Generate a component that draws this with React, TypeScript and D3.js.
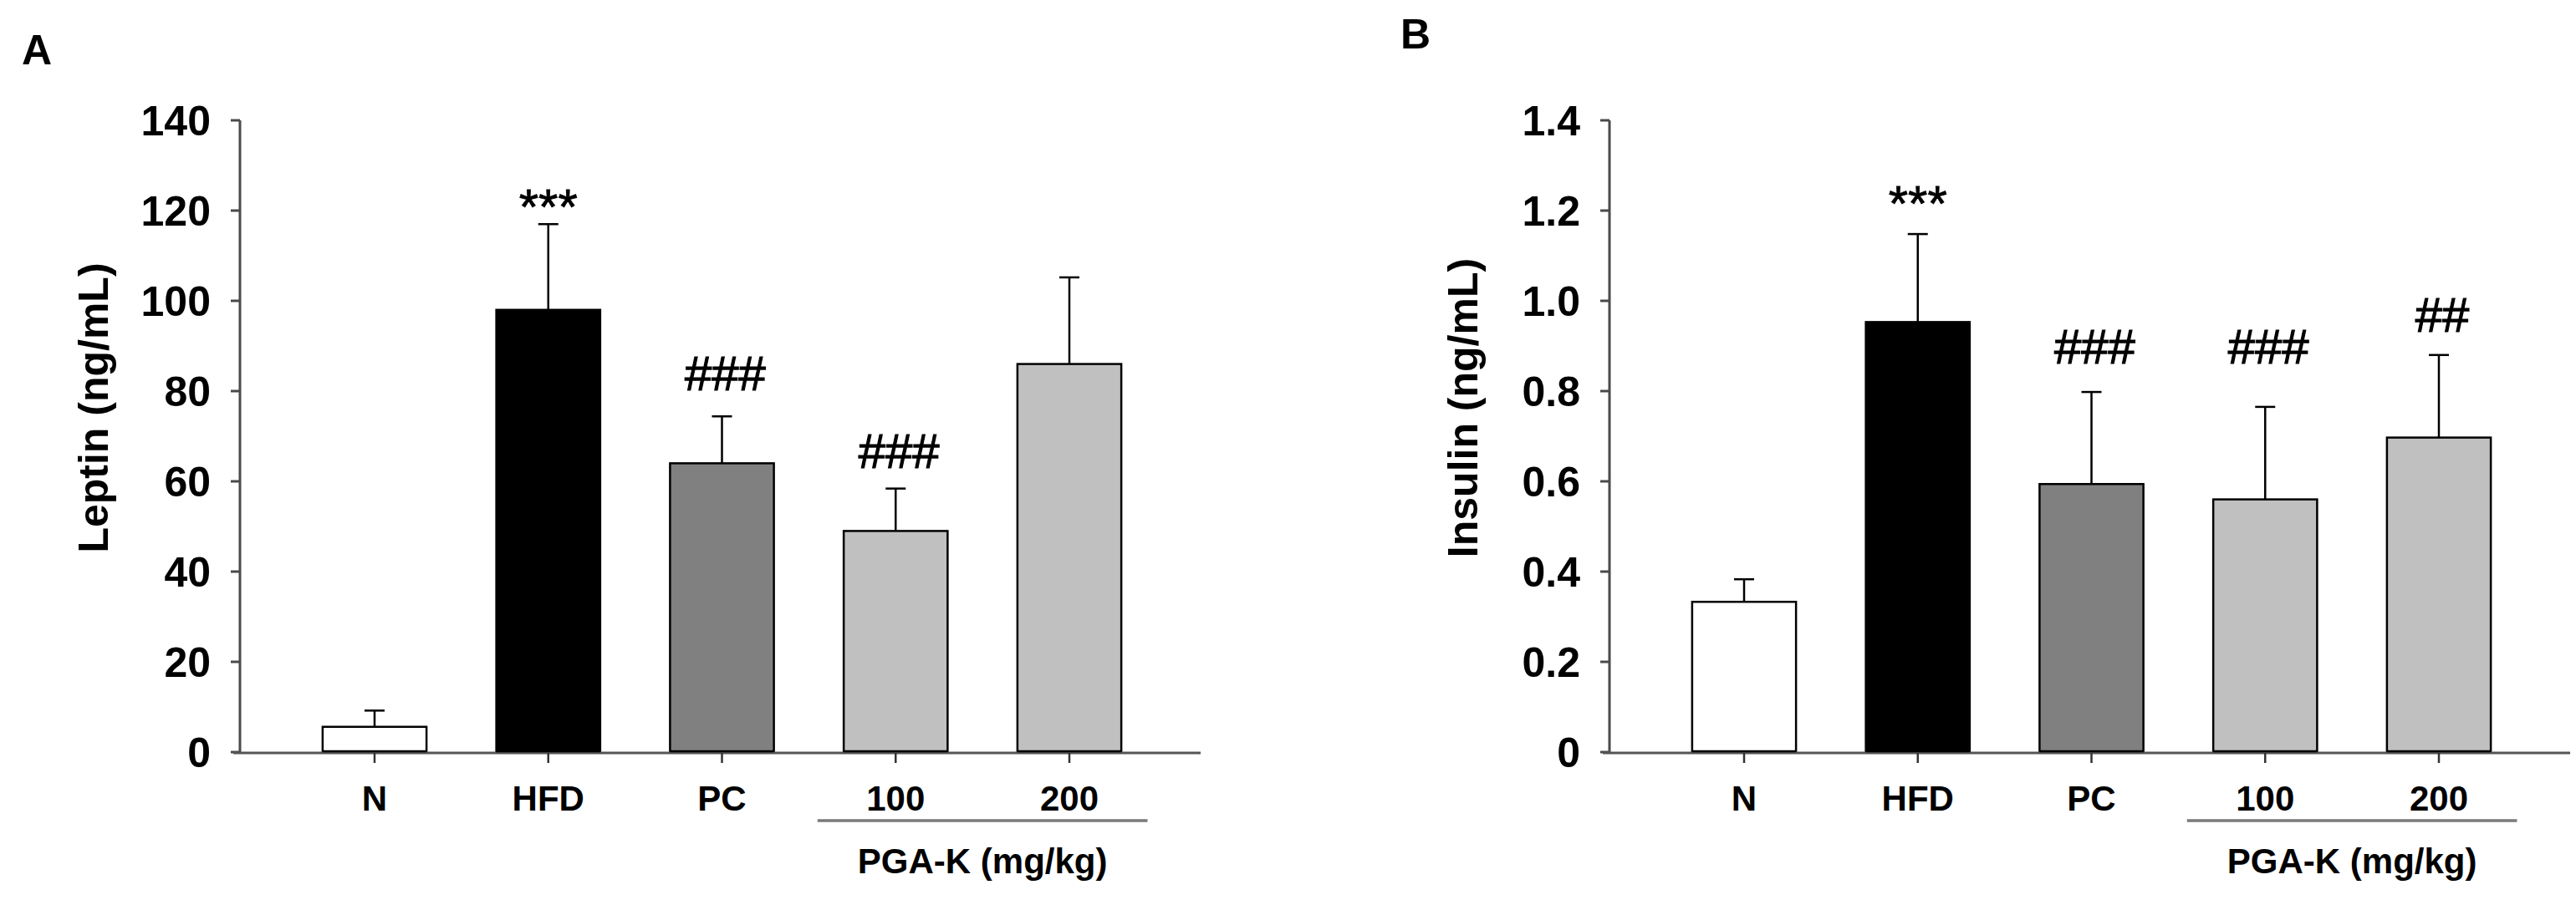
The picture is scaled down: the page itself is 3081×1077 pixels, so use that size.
import React from 'react';
import * as d3 from 'd3';

const categories = ['N', 'HFD', 'PC', '100', '200'];
const leptinMeans = [5.6, 98, 64, 49, 86];
const leptinSem = [3.6, 19, 10.4, 9.4, 19.2];
const insulinMeans = [0.333, 0.953, 0.594, 0.56, 0.697];
const insulinSem = [0.05, 0.195, 0.204, 0.205, 0.183];
const leptinTicks = [0, 20, 40, 60, 80, 100, 120, 140];
const insulinTicks = [0, 0.2, 0.4, 0.6, 0.8, 1.0, 1.2, 1.4];
const barFills = ['#ffffff', '#000000', '#808080', '#c0c0c0', '#c0c0c0'];
const leptinMarks = ['', '***', '###', '###', ''];
const leptinMarkLevels = [0, 123.5, 84.1, 66.9, 0];
const insulinMarks = ['', '***', '###', '###', '##'];
const insulinMarkLevels = [0, 1.243, 0.9, 0.9, 0.97];
const groupLabel = 'PGA-K (mg/kg)';
const groupMembers = ['100', '200'];

const FONT = '"Liberation Sans", Arial, sans-serif';

type PanelProps = {
  dx: number;
  letter: string;
  letterX: number;
  letterY: number;
  title: string;
  means: number[];
  sem: number[];
  ticks: number[];
  yMax: number;
  fmt: (v: number) => string;
  marks: string[];
  levels: number[];
};

function Panel(p: PanelProps) {
  const axisX = 287 + p.dx;
  const top = 144;
  const bottom = 900;
  const y = d3.scaleLinear().domain([0, p.yMax]).range([bottom, top]);
  const x = d3.scalePoint<string>().domain(categories).range([448 + p.dx, 1279 + p.dx]);
  const step = x.step();
  const bw = step * 0.598;
  const baseY = 901;
  const g0 = x(groupMembers[0])!;
  const g1 = x(groupMembers[groupMembers.length - 1])!;
  return (
    <g fontFamily={FONT}>
      <text x={p.letterX} y={p.letterY} fontSize={50} fontWeight="bold" fill="#000">
        {p.letter}
      </text>
      <text
        transform={`translate(${axisX - 158},488) rotate(-90)`}
        textAnchor="middle"
        fontSize={50}
        fontWeight="bold"
        fill="#000"
      >
        {p.title}
      </text>
      {/* y axis */}
      <line x1={axisX} x2={axisX} y1={top} y2={baseY} stroke="#4a4a4a" strokeWidth={3} />
      {p.ticks.map((t) => (
        <g key={t}>
          <line x1={axisX - 11} x2={axisX} y1={y(t)} y2={y(t)} stroke="#4a4a4a" strokeWidth={3} />
          <text
            x={axisX - 35}
            y={y(t) + 18}
            textAnchor="end"
            fontSize={50}
            fontWeight="bold"
            fill="#000"
          >
            {p.fmt(t)}
          </text>
        </g>
      ))}
      {/* bars */}
      {categories.map((c, i) => {
        const xc = x(c)!;
        const yt = y(p.means[i]);
        return (
          <g key={c}>
            <rect
              x={xc - bw / 2}
              y={yt}
              width={bw}
              height={bottom - yt}
              fill={barFills[i]}
              stroke="#000"
              strokeWidth={2.5}
            />
          </g>
        );
      })}
      {/* baseline */}
      <line x1={axisX - 8} x2={1436 + p.dx} y1={baseY} y2={baseY} stroke="#555" strokeWidth={3} />
      {categories.map((c, i) => {
        const xc = x(c)!;
        const yt = y(p.means[i]);
        const ye = y(p.means[i] + p.sem[i]);
        const isStar = p.marks[i].startsWith('*');
        return (
          <g key={'e' + c}>
            <line x1={xc - bw / 2} x2={xc + bw / 2} y1={899} y2={899} stroke="#000" strokeWidth={2.5} />
            <line x1={xc} x2={xc} y1={yt} y2={ye} stroke="#000" strokeWidth={2.5} />
            <line x1={xc - 12} x2={xc + 12} y1={ye} y2={ye} stroke="#000" strokeWidth={2.5} />
            <line x1={xc} x2={xc} y1={baseY} y2={913} stroke="#333" strokeWidth={2.5} />
            <text x={xc} y={970} textAnchor="middle" fontSize={42} fontWeight="bold" fill="#000">
              {c}
            </text>
            {p.marks[i] && (
              <text
                x={xc + (isStar ? 0 : 4)}
                y={y(p.levels[i]) + (isStar ? 35 : 21)}
                textAnchor="middle"
                fontSize={isStar ? 60 : 58}
                fill="#000"
                stroke="#000"
                strokeWidth={isStar ? 0.8 : 1.2}
              >
                {p.marks[i]}
              </text>
            )}
          </g>
        );
      })}
      {/* group underline */}
      <line x1={g0 - step * 0.45} x2={g1 + step * 0.45} y1={982} y2={982} stroke="#7a7a7a" strokeWidth={3.5} />
      <text
        x={(g0 + g1) / 2}
        y={1045}
        textAnchor="middle"
        fontSize={42}
        fontWeight="bold"
        fill="#000"
      >
        {groupLabel}
      </text>
    </g>
  );
}

export default function App() {
  return (
    <svg
      width={3081}
      height={1077}
      viewBox="0 0 3081 1077"
      style={{ position: 'absolute', left: 0, top: 0, background: '#fff' }}
    >
      <rect x={0} y={0} width={3081} height={1077} fill="#fff" />
      <Panel
        dx={0}
        letter="A"
        letterX={26}
        letterY={77}
        title="Leptin (ng/mL)"
        means={leptinMeans}
        sem={leptinSem}
        ticks={leptinTicks}
        yMax={140}
        fmt={(v) => String(v)}
        marks={leptinMarks}
        levels={leptinMarkLevels}
      />
      <Panel
        dx={1638}
        letter="B"
        letterX={1675}
        letterY={58}
        title="Insulin (ng/mL)"
        means={insulinMeans}
        sem={insulinSem}
        ticks={insulinTicks}
        yMax={1.4}
        fmt={(v) => (v === 0 ? '0' : v.toFixed(1))}
        marks={insulinMarks}
        levels={insulinMarkLevels}
      />
    </svg>
  );
}
